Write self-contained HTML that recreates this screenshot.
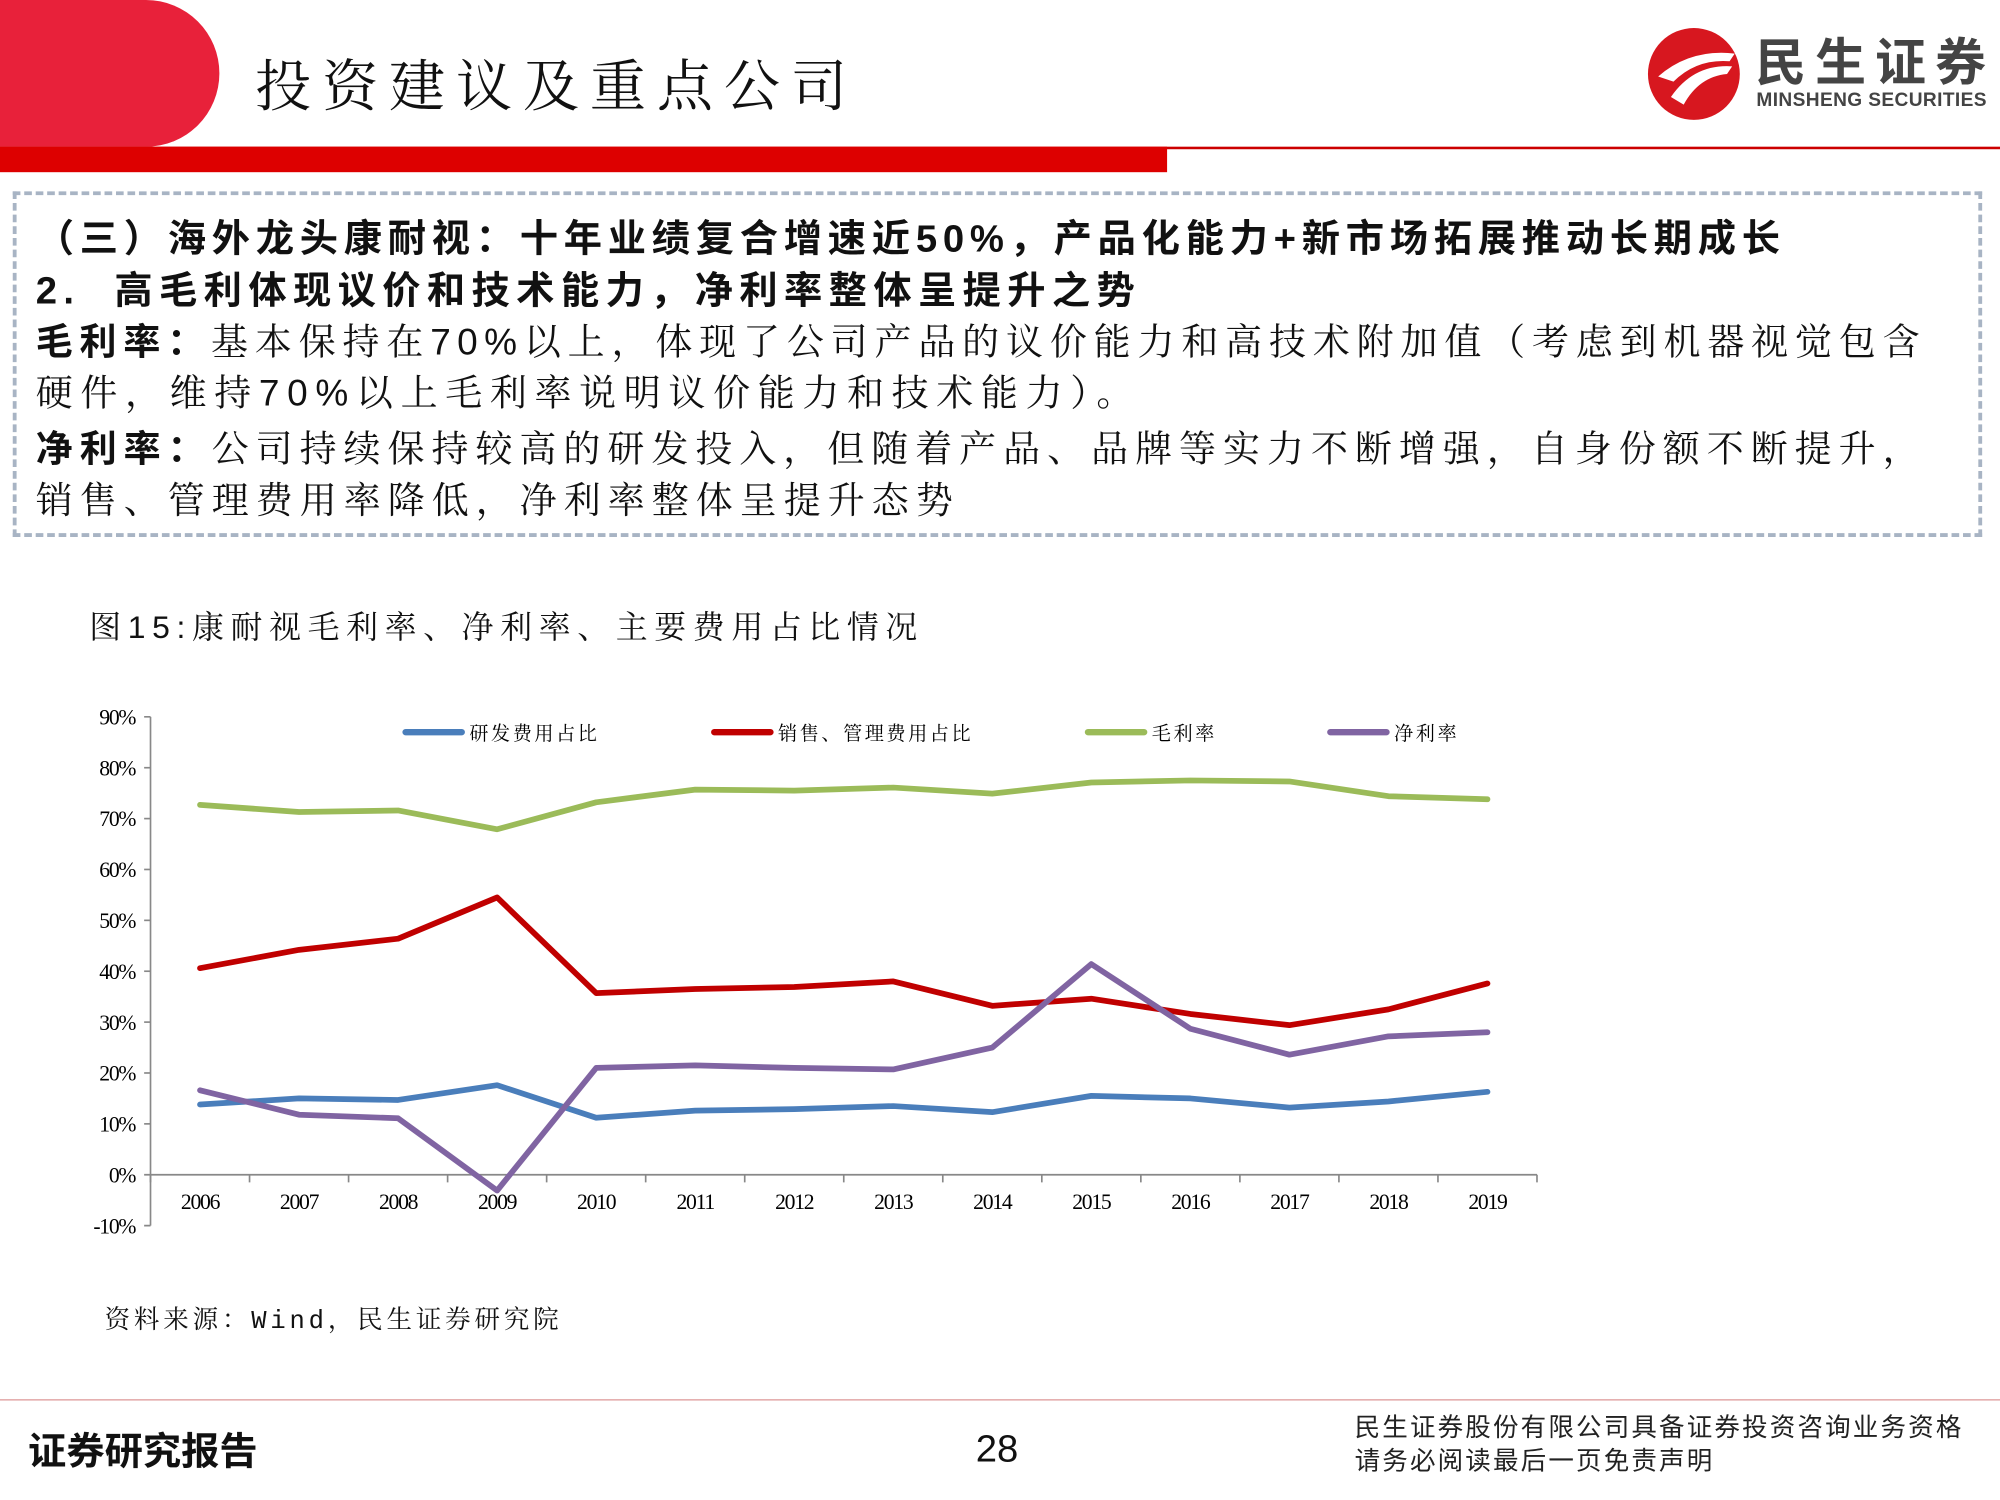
<!DOCTYPE html>
<html><head><meta charset="utf-8">
<style>
html,body{margin:0;padding:0;background:#fff;}
#wrap{width:2000px;height:1500px;overflow:hidden;position:relative;}
#page{position:absolute;left:0;top:0;width:1568px;height:1176px;transform:scale(1.27551);transform-origin:0 0;font-family:"Liberation Serif","Noto Serif CJK SC",serif;color:#111;}
.abs{position:absolute;white-space:nowrap;}
.txt{font-family:"Liberation Sans","Noto Serif CJK SC",serif;font-size:29px;letter-spacing:5px;left:28px;}
.b{font-family:"Liberation Sans","Noto Sans CJK SC",sans-serif;font-weight:bold;}
.just{width:1482px;text-align:justify;text-align-last:justify;}
</style></head><body>
<div id="wrap"><div id="page">
<div class="abs" style="left:0;top:0;width:172px;height:115px;background:#e8213a;border-radius:0 60px 60px 0;"></div>
<div class="abs" style="left:200px;top:32px;font-size:44px;letter-spacing:8.5px;font-family:'Noto Serif CJK SC',serif;">投资建议及重点公司</div>
<svg class="abs" style="left:1290px;top:20px" width="76" height="76"><circle cx="38" cy="38" r="36" fill="#d7171f"/><path d="M10 40 Q35 18 70 22 L66 28 Q40 26 22 44 Z M20 56 Q38 30 68 32 L64 38 Q42 40 30 62 Z" fill="#fff"/></svg>
<div class="abs" style="left:1376px;top:22px;font-size:40px;font-weight:bold;color:#444;font-family:'Noto Sans CJK SC',sans-serif;letter-spacing:7px;line-height:48px;">民生证券</div>
<div class="abs" style="left:1377px;top:70px;font-size:15px;font-weight:bold;color:#444;font-family:'Liberation Sans',sans-serif;letter-spacing:0.3px;">MINSHENG SECURITIES</div>
<div class="abs" style="left:0;top:115px;width:1568px;height:2px;background:#c00;"></div>
<div class="abs" style="left:0;top:115px;width:915px;height:20px;background:#d00;"></div>
<div class="abs" style="left:10px;top:150px;width:1538px;height:265px;border:3px dashed #a8b4c4;"></div>
<div class="abs b" style="left:28px;top:162px;font-size:30px;letter-spacing:4.5px;">（三）海外龙头康耐视：十年业绩复合增速近50%，产品化能力+新市场拓展推动长期成长</div>
<div class="abs b" style="left:28px;top:203px;font-size:30px;letter-spacing:5px;">2.&nbsp; 高毛利体现议价和技术能力，净利率整体呈提升之势</div>
<div class="abs txt just" style="top:245px;"><span class="b">毛利率：</span>基本保持在70%以上，体现了公司产品的议价能力和高技术附加值（考虑到机器视觉包含</div>
<div class="abs txt" style="top:286px;letter-spacing:6px;">硬件，维持70%以上毛利率说明议价能力和技术能力）。</div>
<div class="abs txt just" style="top:329px;"><span class="b">净利率：</span>公司持续保持较高的研发投入，但随着产品、品牌等实力不断增强，自身份额不断提升，</div>
<div class="abs txt" style="top:370px;letter-spacing:5.5px;">销售、管理费用率降低，净利率整体呈提升态势</div>
<div class="abs" style="left:70px;top:472px;font-size:25px;letter-spacing:5.2px;font-family:'Liberation Sans','Noto Serif CJK SC',serif;">图15:康耐视毛利率、净利率、主要费用占比情况</div>
<svg class="abs" id="chart" style="left:0;top:540px" width="1300" height="450"></svg>
<div class="abs" style="left:82px;top:1018px;font-size:20px;letter-spacing:3px;font-family:'Liberation Mono','Noto Serif CJK SC',serif;">资料来源：Wind，民生证券研究院</div>
<div class="abs" style="left:0;top:1097px;width:1568px;height:1px;background:#d99;"></div>
<div class="abs b" style="left:22px;top:1113px;font-size:30px;">证券研究报告</div>
<div class="abs" style="left:765px;top:1120px;font-size:30px;font-family:'Liberation Sans',sans-serif;">28</div>
<div class="abs" style="left:1062px;top:1107px;font-size:20px;line-height:26px;letter-spacing:1.7px;font-family:'Liberation Sans','Noto Sans CJK SC',sans-serif;color:#222;">民生证券股份有限公司具备证券投资咨询业务资格<br>请务必阅读最后一页免责声明</div>
</div></div>
<script>
const years=["2006","2007","2008","2009","2010","2011","2012","2013","2014","2015","2016","2017","2018","2019"];
const rdRatio=[13.8,15.0,14.7,17.6,11.2,12.6,12.9,13.5,12.3,15.5,15.0,13.2,14.4,16.3];
const sgaRatio=[40.6,44.2,46.4,54.5,35.7,36.5,36.9,38.0,33.2,34.6,31.6,29.4,32.5,37.6];
const grossMargin=[72.7,71.3,71.6,67.9,73.2,75.7,75.5,76.1,74.9,77.1,77.5,77.3,74.4,73.8];
const netMargin=[16.6,11.8,11.1,-3.1,21.0,21.5,21.0,20.7,25.0,41.4,28.7,23.6,27.2,28.0];
const yTicks=[90,80,70,60,50,40,30,20,10,0,-10];
const seriesNames=["研发费用占比","销售、管理费用占比","毛利率","净利率"];
const seriesColors=["#4a7ebb","#c00000","#9bbb59","#8064a2"];
const svg=document.getElementById('chart');
const NS='http://www.w3.org/2000/svg';
const X0=118,X1=1205,YTOP=22,Y0=381;
const step=(X1-X0)/years.length;
function xs(i){return X0+step*(i+0.5);}
function ys(v){return Y0-(v/90)*(Y0-YTOP);}
function mk(tag,attrs){const e=document.createElementNS(NS,tag);for(const k in attrs)e.setAttribute(k,attrs[k]);svg.appendChild(e);return e;}
let e=mk('line',{x1:X0,x2:X0,y1:ys(90),y2:ys(-10),stroke:'#888','stroke-width':1.3});


yTicks.forEach(t=>{
  let l=mk('line',{x1:X0-5,x2:X0,y1:ys(t),y2:ys(t),stroke:'#888','stroke-width':1.3});
  
  
  let tx=mk('text',{x:X0-12,y:ys(t)+6,'text-anchor':'end','font-size':17,'font-family':'Liberation Serif,serif','letter-spacing':'-1'});
  tx.textContent=t+'%';
  
  
});
e=mk('line',{x1:X0,x2:X1,y1:Y0,y2:Y0,stroke:'#888','stroke-width':1.3});


for(let i=0;i<=years.length;i++){
  let l=mk('line',{x1:X0+step*i,x2:X0+step*i,y1:Y0,y2:Y0+6,stroke:'#888','stroke-width':1.3});
  
  
}
years.forEach((y,i)=>{
  let tx=mk('text',{x:xs(i),y:Y0+27,'text-anchor':'middle','font-size':17,'font-family':'Liberation Serif,serif','letter-spacing':'-1'});
  tx.textContent=y;
  
  
});
const allSeries=[rdRatio,sgaRatio,grossMargin,netMargin];
const slugs=['rd-ratio','sga-ratio','gross-margin','net-margin'];
allSeries.forEach((s,k)=>{
  let p=mk('polyline',{points:s.map((v,i)=>xs(i)+','+ys(v)).join(' '),fill:'none',stroke:seriesColors[k],'stroke-width':4.5,'stroke-linejoin':'round','stroke-linecap':'round'});
  
  
});
const legX=[318,560,853,1043];
seriesNames.forEach((n,k)=>{
  let l=mk('line',{x1:legX[k],x2:legX[k]+44,y1:34,y2:34,stroke:seriesColors[k],'stroke-width':5,'stroke-linecap':'round'});
  
  
  let tx=mk('text',{x:legX[k]+50,y:40,'font-size':15,'font-family':'Noto Serif CJK SC,serif','letter-spacing':'2'});
  tx.textContent=n;
  
  
});
</script>
</body></html>
